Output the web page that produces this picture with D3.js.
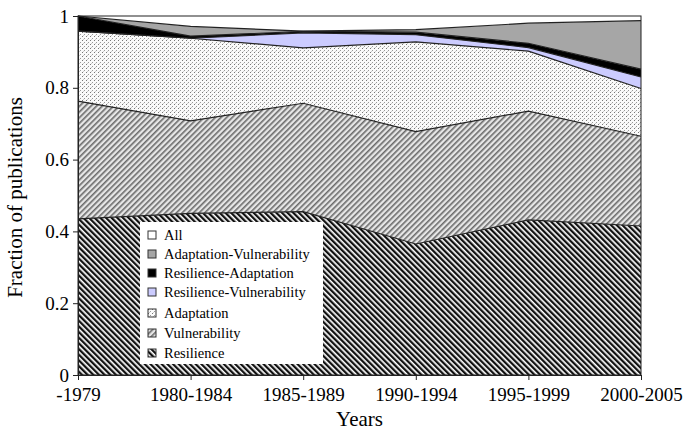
<!DOCTYPE html>
<html>
<head>
<meta charset="utf-8">
<script src="https://cdnjs.cloudflare.com/ajax/libs/d3/7.8.5/d3.min.js"></script>
<style>
  body { margin: 0; background: #fff; }
  svg text { font-family: "Liberation Serif", "DejaVu Serif", "Times New Roman", serif; fill: #000; }
</style>
</head>
<body>
<svg id="chart" width="685" height="431"></svg>
<script>
// periods on the x axis
var years = ["-1979", "1980-1984", "1985-1989", "1990-1994", "1995-1999", "2000-2005"];

// fraction of publications per topic (stacked, bottom to top)
var resilience     = [0.435, 0.450, 0.455, 0.365, 0.432, 0.415];
var vulnerability  = [0.328, 0.258, 0.302, 0.313, 0.303, 0.250];
var adaptation     = [0.195, 0.230, 0.154, 0.250, 0.167, 0.133];
var resVul         = [0.000, 0.000, 0.042, 0.020, 0.010, 0.032];
var resAdapt       = [0.042, 0.006, 0.004, 0.007, 0.012, 0.022];
var adaptVul       = [0.000, 0.027, 0.001, 0.007, 0.056, 0.135];
var all            = [0.000, 0.029, 0.042, 0.038, 0.020, 0.013];

var keys = ["Resilience", "Vulnerability", "Adaptation", "Resilience-Vulnerability",
            "Resilience-Adaptation", "Adaptation-Vulnerability", "All"];
var series = [resilience, vulnerability, adaptation, resVul, resAdapt, adaptVul, all];

var yTicks = [0, 0.2, 0.4, 0.6, 0.8, 1];

var rows = years.map(function(y, i) {
  var r = {year: y};
  keys.forEach(function(k, j) { r[k] = series[j][i]; });
  return r;
});

var margin = {top: 16, right: 44, bottom: 56, left: 78};
var width = 685 - margin.left - margin.right;
var height = 431 - margin.top - margin.bottom;
var serif = "'Liberation Serif', 'DejaVu Serif', 'Times New Roman', serif";

var svg = d3.select("#chart");
var defs = svg.append("defs");

// hatch patterns
function stripes(id, angle, bg, fg, w) {
  var p = defs.append("pattern")
    .attr("id", id)
    .attr("patternUnits", "userSpaceOnUse")
    .attr("width", 4).attr("height", 4)
    .attr("patternTransform", "rotate(" + angle + ")");
  p.append("rect").attr("width", 4).attr("height", 4).attr("fill", bg);
  p.append("rect").attr("width", w).attr("height", 4).attr("fill", fg);
}
stripes("pRes", -45, "#ffffff", "#111", 2.3);
stripes("pVul", 45, "#e6e6e6", "#6a6a6a", 1.6);

var dots = defs.append("pattern")
  .attr("id", "pAdapt")
  .attr("patternUnits", "userSpaceOnUse")
  .attr("width", 4).attr("height", 4);
dots.append("rect").attr("width", 4).attr("height", 4).attr("fill", "#fafafa");
dots.append("rect").attr("x", 0).attr("y", 0).attr("width", 1).attr("height", 1).attr("fill", "#777");
dots.append("rect").attr("x", 2).attr("y", 2).attr("width", 1).attr("height", 1).attr("fill", "#999");
dots.append("rect").attr("x", 1).attr("y", 3).attr("width", 1).attr("height", 1).attr("fill", "#ccc");

var fills = {
  "Resilience": "url(#pRes)",
  "Vulnerability": "url(#pVul)",
  "Adaptation": "url(#pAdapt)",
  "Resilience-Vulnerability": "#ccccff",
  "Resilience-Adaptation": "#000000",
  "Adaptation-Vulnerability": "#a6a6a6",
  "All": "#ffffff"
};

var g = svg.append("g").attr("transform", "translate(" + margin.left + "," + margin.top + ")");

var x = d3.scalePoint().domain(years).range([0, width]);
var y = d3.scaleLinear().domain([0, 1]).range([height, 0]);

var stacked = d3.stack().keys(keys)(rows);

var area = d3.area()
  .x(function(d) { return x(d.data.year); })
  .y0(function(d) { return y(d[0]); })
  .y1(function(d) { return y(d[1]); });

var line = d3.line()
  .x(function(d) { return x(d.data.year); })
  .y(function(d) { return y(d[1]); });

g.selectAll("path.layer")
  .data(stacked)
  .enter().append("path")
  .attr("class", "layer")
  .attr("d", area)
  .attr("fill", function(d) { return fills[d.key]; });

g.selectAll("path.edge")
  .data(stacked.slice(0, 6))
  .enter().append("path")
  .attr("class", "edge")
  .attr("d", line)
  .attr("fill", "none")
  .attr("stroke", "#222")
  .attr("stroke-width", 1.2);

// frame
g.append("rect")
  .attr("width", width).attr("height", height)
  .attr("fill", "none").attr("stroke", "#222").attr("stroke-width", 1);

// axes
var yAxis = g.append("g")
  .call(d3.axisLeft(y).tickValues(yTicks).tickSize(5).tickPadding(4).tickFormat(d3.format("")));
var xAxis = g.append("g")
  .attr("transform", "translate(0," + height + ")")
  .call(d3.axisBottom(x).tickSize(5).tickPadding(8));

[yAxis, xAxis].forEach(function(a) {
  a.attr("font-family", serif);
  a.select(".domain").attr("stroke", "#222");
  a.selectAll(".tick line").attr("stroke", "#222");
  a.selectAll("text").style("font-family", serif).style("font-size", "19px").attr("fill", "#000");
});

svg.append("text")
  .attr("transform", "translate(22," + (margin.top + height / 2 + 2) + ") rotate(-90)")
  .attr("text-anchor", "middle")
  .style("font-family", serif)
  .style("font-size", "21px")
  .text("Fraction of publications");

svg.append("text")
  .attr("x", margin.left + width / 2)
  .attr("y", 426)
  .attr("text-anchor", "middle")
  .style("font-family", serif)
  .style("font-size", "21px")
  .text("Years");

// legend
var legend = svg.append("g").attr("transform", "translate(140,222)");
legend.append("rect").attr("width", 183).attr("height", 142).attr("fill", "#fff");

var legendKeys = keys.slice().reverse();
var ly = [13, 32, 51, 70, 91, 111, 131];
legendKeys.forEach(function(k, i) {
  var row = legend.append("g").attr("transform", "translate(8," + ly[i] + ")");
  row.append("rect")
    .attr("x", 0).attr("y", -4).attr("width", 8).attr("height", 8)
    .attr("fill", fills[k]).attr("stroke", "#333").attr("stroke-width", 1);
  row.append("text")
    .attr("x", 16).attr("y", 5)
    .style("font-family", serif)
    .style("font-size", "14.5px")
    .text(k);
});
</script>
</body>
</html>
